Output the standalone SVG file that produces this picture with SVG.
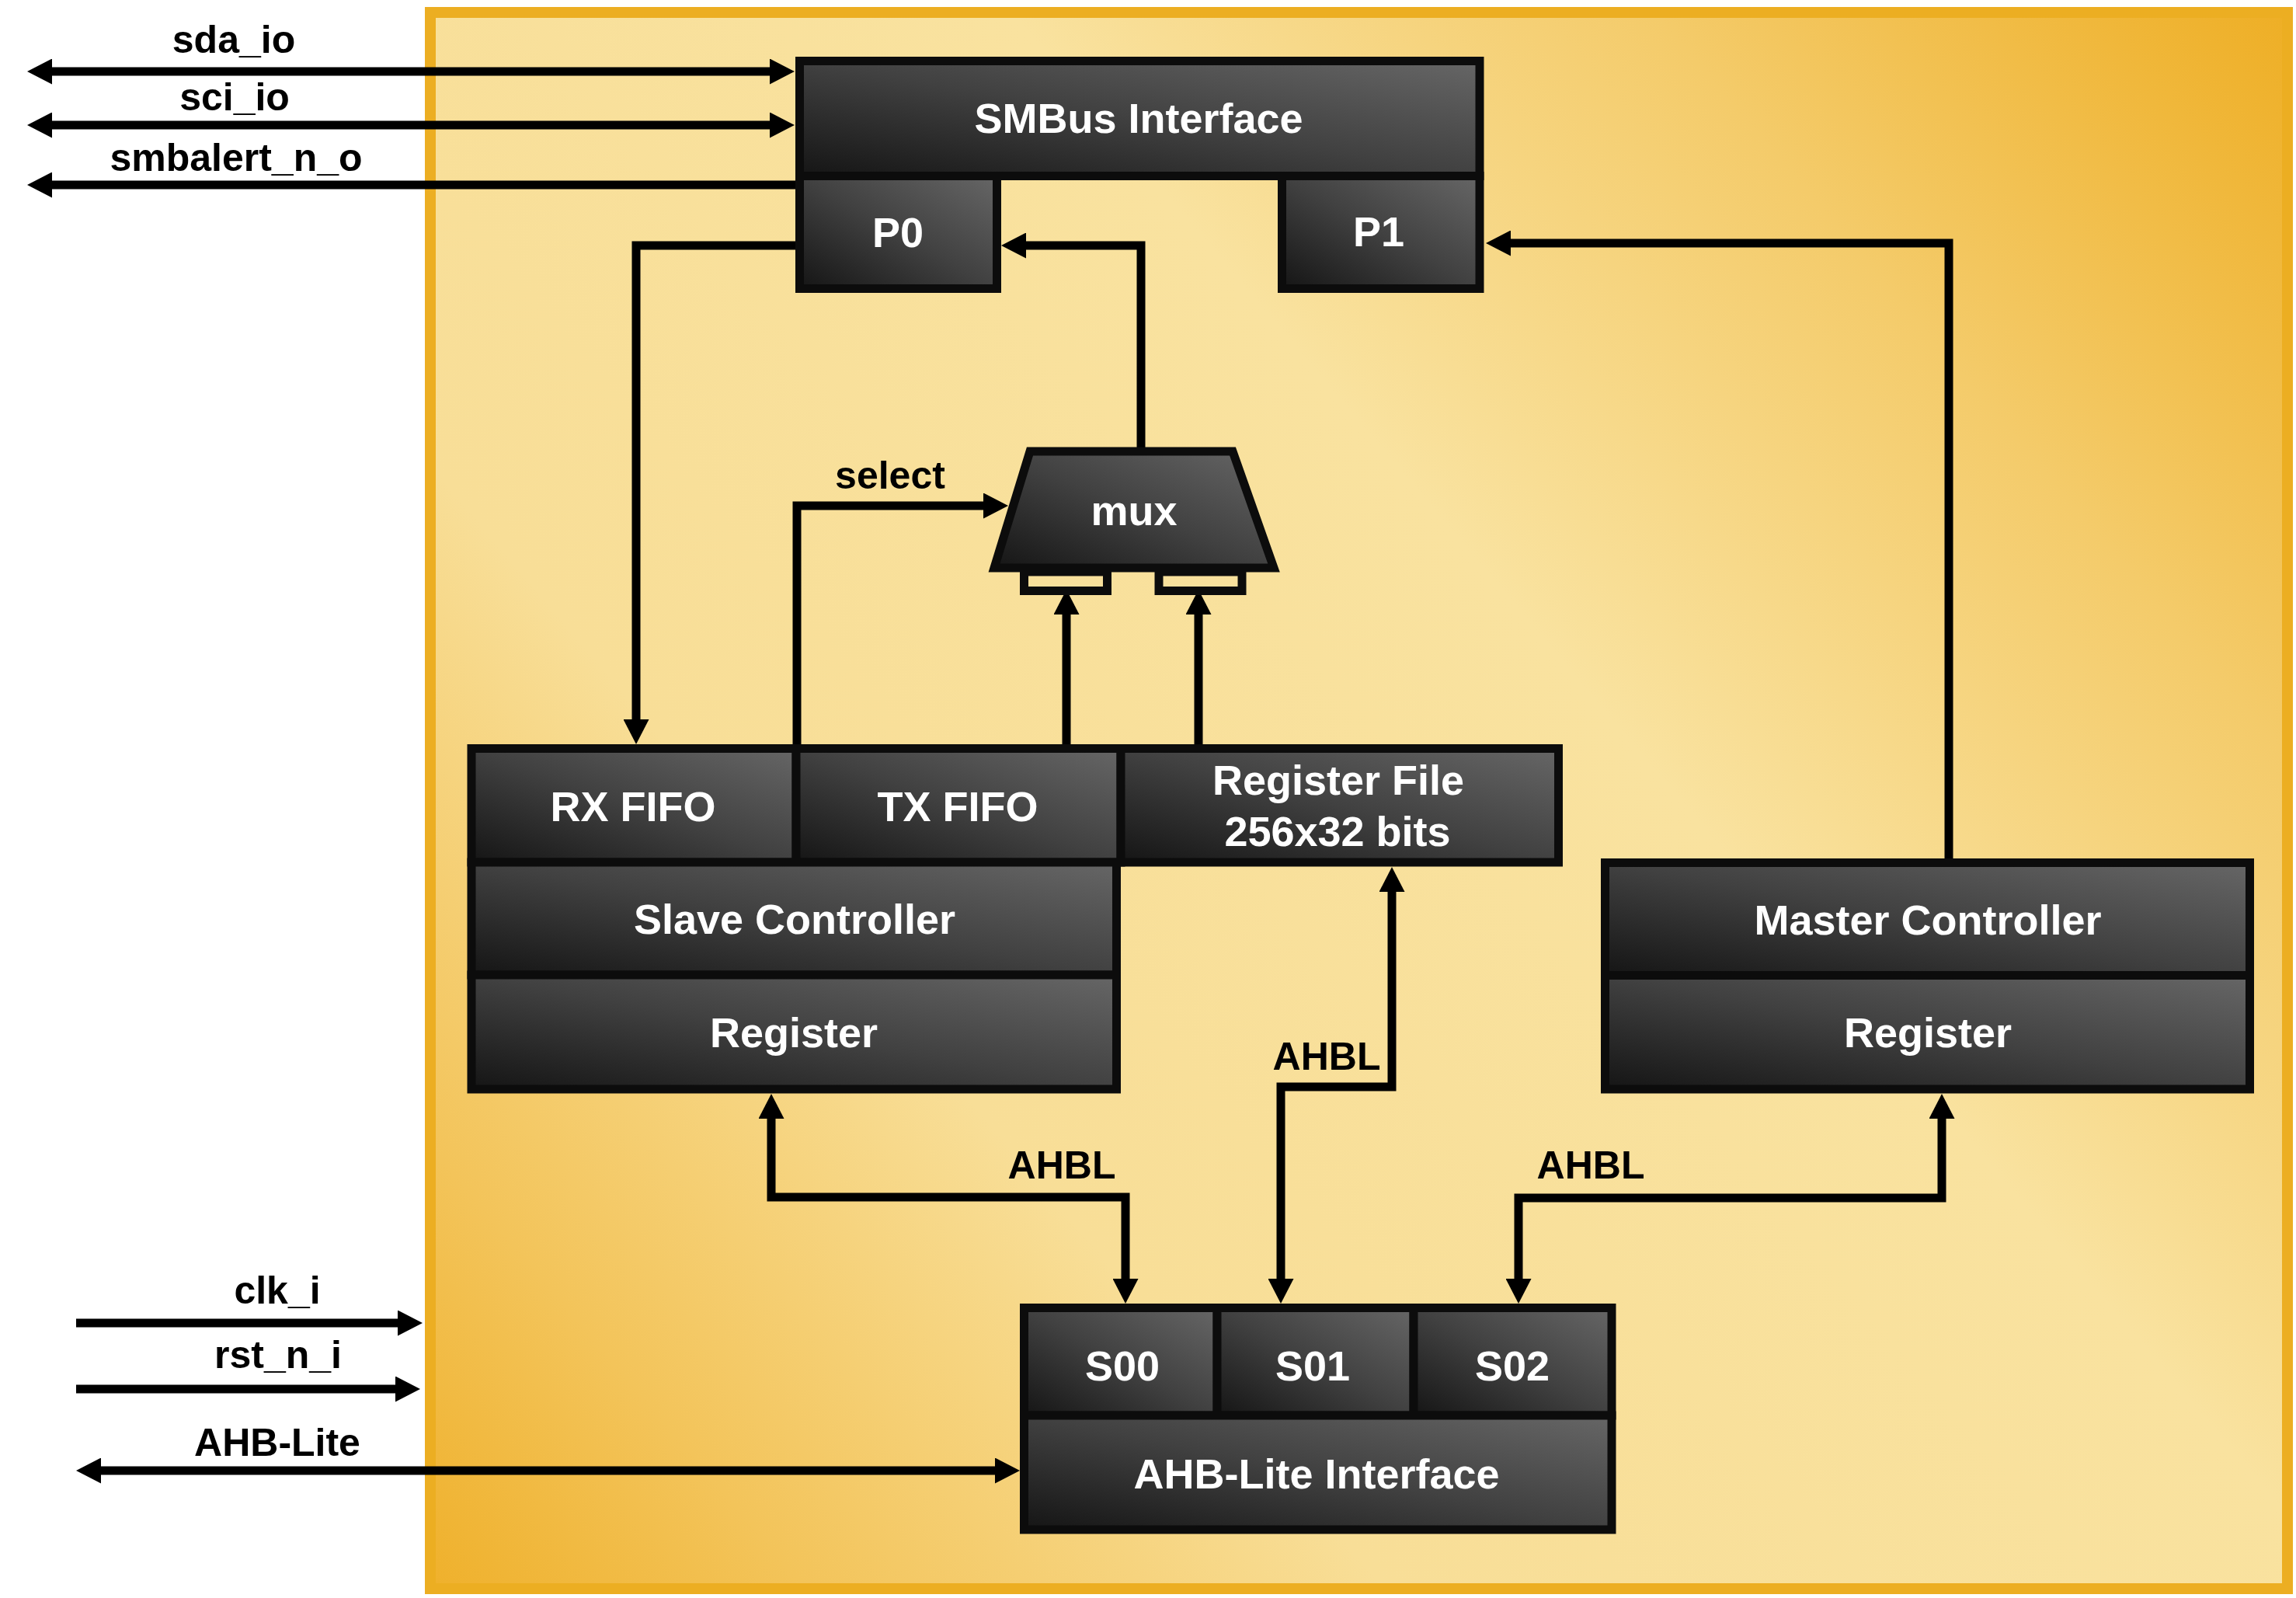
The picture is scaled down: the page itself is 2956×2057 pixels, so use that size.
<svg xmlns="http://www.w3.org/2000/svg" width="2956" height="2057" viewBox="0 0 2956 2057">
<defs>
<linearGradient id="bg" gradientUnits="userSpaceOnUse" x1="547" y1="2052" x2="2952" y2="9">
<stop offset="0" stop-color="#EFB02A"/>
<stop offset="0.12" stop-color="#F3C45A"/>
<stop offset="0.3" stop-color="#F8DE97"/>
<stop offset="0.6" stop-color="#F9E29F"/>
<stop offset="0.8" stop-color="#F4CB6A"/>
<stop offset="1" stop-color="#EEAE24"/>
</linearGradient>
<linearGradient id="dark" x1="0" y1="1" x2="1" y2="0">
<stop offset="0" stop-color="#151515"/>
<stop offset="0.5" stop-color="#414141"/>
<stop offset="1" stop-color="#666666"/>
</linearGradient>
<marker id="ah" viewBox="0 0 32 33" refX="2" refY="16.5" markerWidth="32" markerHeight="33" markerUnits="userSpaceOnUse" orient="auto-start-reverse">
<path d="M0,0 L32,16.5 L0,33 z" fill="#000"/>
</marker>
<style>
.box{fill:url(#dark);stroke:#0c0c0c;stroke-width:11}
.bl{font-family:"Liberation Sans",Arial,sans-serif;font-weight:bold;font-size:54px;fill:#fff;text-anchor:middle}
.lb{font-family:"Liberation Sans",Arial,sans-serif;font-weight:bold;font-size:50px;fill:#000;text-anchor:middle}
.wire{fill:none;stroke:#000;stroke-width:11;stroke-linejoin:miter;stroke-linecap:butt}
.one{marker-end:url(#ah)}
.two{marker-start:url(#ah);marker-end:url(#ah)}
.port{fill:none;stroke:#0c0c0c;stroke-width:11}
</style>
</defs>
<rect width="2956" height="2057" fill="#fff"/>
<rect id="container" x="554" y="16" width="2391" height="2029" fill="url(#bg)" stroke="#ECAE22" stroke-width="14"/>

<g id="connectors">
<path class="wire two" d="M65 92 H993"/>
<path class="wire two" d="M65 161 H993"/>
<path class="wire one" d="M1030 238 H65"/>
<path class="wire one" d="M1030 316 H819 V928"/>
<path class="wire one" d="M1469 582 V316 H1319"/>
<path class="wire one" d="M2509 1112 V313 H1943"/>
<path class="wire one" d="M1026 966 V651 H1268"/>
<path class="wire one" d="M1373 966 V789"/>
<path class="wire one" d="M1543 966 V789"/>
<path class="wire two" d="M993 1438 V1541 H1449 V1648"/>
<path class="wire two" d="M1792 1146 V1399 H1649 V1648"/>
<path class="wire two" d="M2500 1438 V1542 H1955 V1648"/>
<path class="wire one" d="M98 1703 H514"/>
<path class="wire one" d="M98 1788 H511"/>
<path class="wire two" d="M128 1893 H1283"/>
</g>

<g id="labels">
<text class="lb" x="301" y="68">sda_io</text>
<text class="lb" x="302" y="142">sci_io</text>
<text class="lb" x="304" y="220">smbalert_n_o</text>
<text class="lb" x="1146" y="629">select</text>
<text class="lb" x="1367" y="1517">AHBL</text>
<text class="lb" x="1708" y="1377">AHBL</text>
<text class="lb" x="2048" y="1517">AHBL</text>
<text class="lb" x="357" y="1678">clk_i</text>
<text class="lb" x="358" y="1761">rst_n_i</text>
<text class="lb" x="357" y="1874">AHB-Lite</text>
</g>

<g id="smbus">
<rect class="box" x="1029.5" y="78.5" width="875.5" height="148"/>
<text class="bl" x="1466" y="171">SMBus Interface</text>
</g>
<g id="p0">
<rect class="box" x="1029.5" y="226.5" width="254" height="145"/>
<text class="bl" x="1156" y="318">P0</text>
</g>
<g id="p1">
<rect class="box" x="1650.5" y="226.5" width="254.5" height="145"/>
<text class="bl" x="1775" y="317">P1</text>
</g>

<g id="mux">
<rect class="port" x="1318.5" y="736" width="107" height="24.5"/>
<rect class="port" x="1492" y="736" width="107" height="24.5"/>
<polygon class="box" points="1326,581 1587,581 1640,731 1280,731"/>
<text class="bl" x="1460" y="676">mux</text>
</g>

<g id="rxfifo">
<rect class="box" x="607" y="963.5" width="418" height="146.5"/>
<text class="bl" x="815" y="1057">RX FIFO</text>
</g>
<g id="txfifo">
<rect class="box" x="1025" y="963.5" width="418" height="146.5"/>
<text class="bl" x="1233" y="1057">TX FIFO</text>
</g>
<g id="regfile">
<rect class="box" x="1443" y="963.5" width="563.5" height="146.5"/>
<text class="bl" x="1723" y="1023">Register File</text>
<text class="bl" x="1722" y="1089">256x32 bits</text>
</g>
<g id="slavectrl">
<rect class="box" x="607" y="1110" width="830.5" height="145"/>
<text class="bl" x="1023" y="1202">Slave Controller</text>
</g>
<g id="slavereg">
<rect class="box" x="607" y="1255" width="830.5" height="147"/>
<text class="bl" x="1022" y="1348">Register</text>
</g>

<g id="masterctrl">
<rect class="box" x="2066.5" y="1110.5" width="830" height="145"/>
<text class="bl" x="2482" y="1203">Master Controller</text>
</g>
<g id="masterreg">
<rect class="box" x="2066.5" y="1255.5" width="830" height="146.5"/>
<text class="bl" x="2482" y="1348">Register</text>
</g>

<g id="s00">
<rect class="box" x="1318.5" y="1683.5" width="248.5" height="138.5"/>
<text class="bl" x="1445" y="1777">S00</text>
</g>
<g id="s01">
<rect class="box" x="1567" y="1683.5" width="253" height="138.5"/>
<text class="bl" x="1690" y="1777">S01</text>
</g>
<g id="s02">
<rect class="box" x="1820" y="1683.5" width="255" height="138.5"/>
<text class="bl" x="1947" y="1777">S02</text>
</g>
<g id="ahblite">
<rect class="box" x="1318.5" y="1822" width="756.5" height="147"/>
<text class="bl" x="1695" y="1916">AHB-Lite Interface</text>
</g>
</svg>
